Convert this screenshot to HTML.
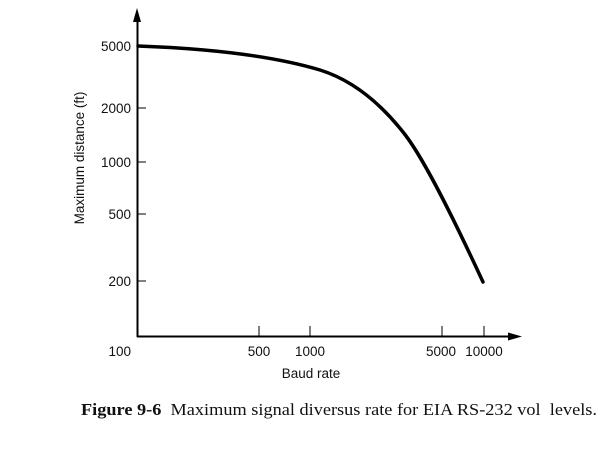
<!DOCTYPE html>
<html><head><style>
html,body{margin:0;padding:0;background:#fff;}
svg{display:block;}
</style></head><body>
<svg width="608" height="456" xmlns="http://www.w3.org/2000/svg">
<rect width="608" height="456" fill="#fff"/>
<g stroke="#000" fill="none">
<line x1="137.5" y1="14" x2="137.5" y2="337" stroke-width="2"/>
<line x1="137" y1="336.5" x2="514" y2="336.5" stroke-width="2"/>
<line x1="138" y1="46" x2="146" y2="46" stroke-width="1"/>
<line x1="138" y1="108" x2="146" y2="108" stroke-width="1"/>
<line x1="138" y1="162" x2="146" y2="162" stroke-width="1"/>
<line x1="138" y1="214" x2="146" y2="214" stroke-width="1"/>
<line x1="138" y1="281" x2="146" y2="281" stroke-width="1"/>
<line x1="259" y1="326" x2="259" y2="336" stroke-width="1"/>
<line x1="310" y1="326" x2="310" y2="336" stroke-width="1"/>
<line x1="442" y1="326" x2="442" y2="336" stroke-width="1"/>
<line x1="484" y1="326" x2="484" y2="336" stroke-width="1"/>
<path d="M138,46 C220,49 280,58 320,70 C352,80 380,103 403,132 C420,153 445,200 483,282" stroke-width="3.5" stroke-linecap="round"/>
</g>
<polygon points="137,8 133,22 141,22" fill="#000"/>
<polygon points="522,336.5 508,332.5 508,340.5" fill="#000"/>
<g font-family="Liberation Sans, sans-serif" font-size="13.5" fill="#111" text-anchor="end">
<text x="131" y="51">5000</text>
<text x="131" y="113">2000</text>
<text x="131" y="167">1000</text>
<text x="131" y="219">500</text>
<text x="131" y="286">200</text>
<text x="131" y="356">100</text>
</g>
<g font-family="Liberation Sans, sans-serif" font-size="13.5" fill="#111" text-anchor="middle">
<text x="259" y="356">500</text>
<text x="310" y="356">1000</text>
<text x="441" y="356">5000</text>
<text x="484" y="356">10000</text>
<text x="311" y="378">Baud rate</text>
<text transform="translate(84,158) rotate(-90)">Maximum distance (ft)</text>
</g>
<text x="81" y="415" xml:space="preserve" font-family="Liberation Serif, serif" font-size="17" fill="#111" textLength="516" lengthAdjust="spacingAndGlyphs"><tspan font-weight="bold">Figure 9-6</tspan>  Maximum signal diversus rate for EIA RS-232 vol  levels.</text>
</svg>
</body></html>
